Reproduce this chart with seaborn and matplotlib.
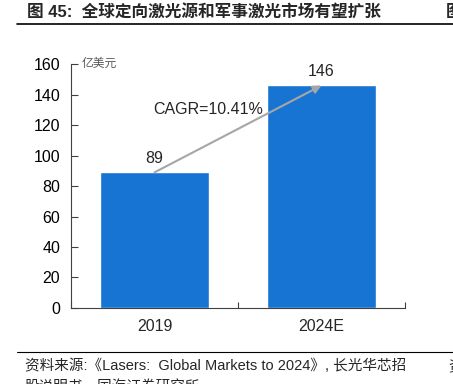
import matplotlib
matplotlib.use("Agg")
import matplotlib.pyplot as plt
import seaborn as sns
import pandas as pd

years = ["2019", "2024E"]
market = [89, 146]
cagr_text = "CAGR=10.41%"
unit = "亿美元"
title = "图 45:  全球定向激光源和军事激光市场有望扩张"
source = "资料来源:《Lasers:  Global Markets to 2024》, 长光华芯招"
source2 = "股说明书，国海证券研究所"

sns.set_style("white")
plt.rcParams['font.family'] = ['Liberation Sans', 'Noto Sans CJK SC', 'DejaVu Sans']

df = pd.DataFrame({"year": years, "value": market})

fig = plt.figure(figsize=(4.53, 3.84), dpi=100)
ax = fig.add_axes([0.157, 0.198, 0.737, 0.635])

sns.barplot(data=df, x="year", y="value", color="#1874D2", width=0.65,
            saturation=1, ax=ax)

ax.set_xlim(-0.5, 1.5)
ax.set_ylim(0, 160)
ax.set_yticks(range(0, 161, 20))
ax.set_xlabel("")
ax.set_ylabel("")
ax.tick_params(axis="both", labelsize=11.5, colors="#404040", labelcolor="black")
ax.tick_params(axis="y", direction="in", length=5, width=0.8, pad=8, left=True)
ax.set_xticks([-0.5, 0.5, 1.5], minor=False)
ax.set_xticklabels(["", "", ""])
ax.set_xticks([0, 1], minor=True)
ax.set_xticklabels(years, minor=True)
ax.tick_params(axis="x", which="major", direction="in", length=4, width=0.8, bottom=True)
ax.tick_params(axis="x", which="minor", length=0, pad=8, labelsize=11.5)
for s in ["top", "right"]:
    ax.spines[s].set_visible(False)
for s in ["left", "bottom"]:
    ax.spines[s].set_color("#404040")
    ax.spines[s].set_linewidth(0.8)

for i, v in enumerate(market):
    ax.text(i, v + 4, str(v), ha="center", va="bottom", fontsize=11.5)

ax.annotate("", xy=(1, market[1]), xytext=(0, market[0]),
            arrowprops=dict(arrowstyle="-|>", color="#A6A6A6", lw=1.5,
                            mutation_scale=12, shrinkA=0, shrinkB=0))
ax.text(0.32, 130, cagr_text, ha="center", va="center", fontsize=11.5)
ax.text(0.033, 1.0, unit, ha="left", va="center", fontsize=8.5, color="#595959",
        transform=ax.transAxes)

fig.text(0.06, 0.968, title, fontsize=12, fontweight="bold", va="center")
fig.text(0.983, 0.968, "图", fontsize=12, fontweight="bold", va="center")
fig.add_artist(plt.Line2D([0.038, 1.0], [0.937, 0.937], color="black", lw=1.2))
fig.add_artist(plt.Line2D([0.038, 1.0], [0.083, 0.083], color="black", lw=0.8))
fig.text(0.055, 0.047, source, fontsize=10.5, va="center")
fig.text(0.055, -0.008, source2, fontsize=10.5, va="center")
fig.text(0.99, 0.047, "资", fontsize=10.5, va="center")

fig.savefig("out.png", dpi=100)
